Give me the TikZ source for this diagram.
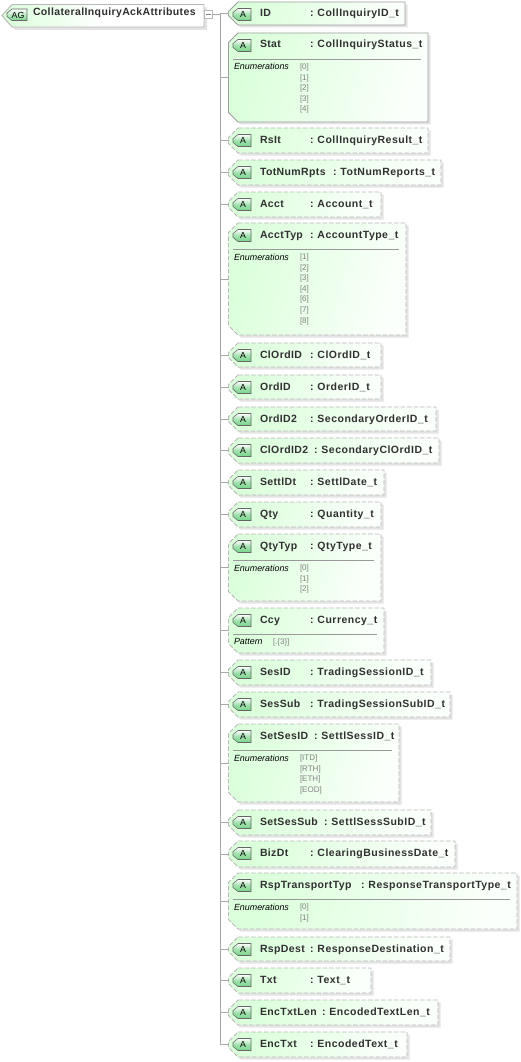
\documentclass[tikz,border=0pt]{standalone}
\usepackage{fontspec}
\setmainfont{Liberation Sans}
\newfontfamily\lblfont[LetterSpace=3.6]{Liberation Sans}
\newfontfamily\typefont[LetterSpace=4.6]{Liberation Sans}
\usetikzlibrary{calc}
\definecolor{edge}{HTML}{B8B8B8}
\definecolor{shadowc}{HTML}{E4E4E4}
\definecolor{txt}{HTML}{303030}
\definecolor{mint}{HTML}{DAFFDA}
\definecolor{wire}{HTML}{A8A8A8}
\definecolor{badgeg}{HTML}{78D48A}
\tikzset{
  x=1pt,y=-1pt,
  every node/.style={inner sep=0pt,outer sep=0pt},
  attrname/.style={anchor=base west,font=\lblfont\bfseries\fontsize{10.5}{12}\selectfont,text=txt},
  attrtype/.style={anchor=base west,font=\typefont\bfseries\fontsize{10.5}{12}\selectfont,text=txt},
  enumlab/.style={anchor=base west,font=\itshape\fontsize{8.9}{10}\selectfont,text=black},
  enumval/.style={anchor=base west,font=\fontsize{8}{9}\selectfont,text=black!50},
  boxline/.style={draw=edge,line width=.9pt},
  wireline/.style={draw=wire,line width=.8pt},
  dashline/.style={dash pattern=on 4.5pt off 2pt},
  solidline/.style={solid,draw=black!38},
  greenfade/.style={left color=mint,right color=mint!10!white,shading angle=75},
}
% id, top, bottom, right, line style, name, colon x, type
\newcommand{\attrbox}[8]{%
  \def\pth{(238,#2) -- (#4,#2) -- (#4,#3) -- (238,#3) -- (228.5,{#3-9.5}) -- (228.5,{#2+9.5}) -- cycle}%
  \fill[shadowc,shift={(2.5,2.5)}] \pth;
  \path[boxline,#5,greenfade] \pth;
  \coordinate (#1) at (228.5,{(#2+#3)/2});
  \draw[draw=black!60,line width=.55pt,top color=white,bottom color=badgeg,middle color=badgeg!70!white,shading angle=0]
     (238,{#2+6.5}) -- (251,{#2+6.5}) -- (251,{#2+18.5}) -- (238,{#2+18.5}) -- (233,{#2+14.5}) -- (233,{#2+10.5}) -- cycle;
  \node[anchor=center,font=\fontsize{8.8}{10}\selectfont,text=black] (#1-a) at (243,{#2+12.5}) {A};
  \node[attrname] (#1-n) at (260,{#2+15}) {#6};
  \node[attrtype] (#1-t) at (#7,{#2+15}) {:\hspace{4pt}#8};
}
% id, top, right, label, values(comma list)
\newcommand{\enumlist}[5]{%
  \draw[draw=black!40,line width=.6pt] (233,{#2+26.5}) -- ({#3-7},{#2+26.5});
  \node[enumlab] (#1-l) at (234,{#2+37}) {#4};
  \foreach \v [count=\i from 0] in {#5} {
    \node[enumval] (#1-v\i) at (300,{#2+36.5+10.6*\i}) {[\v]};
  }
}
\begin{document}
\begin{tikzpicture}
\useasboundingbox (0,0) rectangle (521,1062);
\fill[white] (0,0) rectangle (521,1062);
% root
\def\rp{(12,4.5) -- (204,4.5) -- (204,27) -- (12,27) -- (2,15.5) -- cycle}
\fill[shadowc,shift={(3,3)}] \rp;
\path[draw=edge,line width=.9pt,left color=mint,right color=white,middle color=white] \rp;
\draw[draw=black!60,line width=.55pt,top color=white,bottom color=badgeg,shading angle=0]
  (12,9) -- (27,9) -- (27,20.5) -- (12,20.5) -- (7,16.5) -- (7,13) -- cycle;
\node[anchor=center,font=\fontsize{8.8}{10}\selectfont,text=black] (root-a) at (18,15) {AG};
\node[attrname] (root-n) at (33,16) {CollateralInquiryAckAttributes};
\node[draw=edge,fill=white,minimum width=8pt,minimum height=7.5pt,line width=.7pt] (toggle) at (208,14.5) {};
\draw[draw=black!50,line width=.6pt] (205.5,14.5) -- (210.5,14.5);
\coordinate (hub) at (220,14.5);

\attrbox{id}{2}{25}{405}{solidline}{ID}{310}{CollInquiryID\_t}
\attrbox{stat}{33}{122}{428}{solidline}{Stat}{310}{CollInquiryStatus\_t}
\enumlist{stat}{33}{428}{Enumerations}{0,1,2,3,4}
\attrbox{rslt}{128}{153}{428}{dashline}{RsIt}{310}{CollInquiryResult\_t}
\attrbox{tot}{160}{185}{441}{dashline}{TotNumRpts}{333}{TotNumReports\_t}
\attrbox{acct}{192}{217}{381}{dashline}{Acct}{310}{Account\_t}
\attrbox{accttyp}{223}{335}{406}{dashline}{AcctTyp}{310}{AccountType\_t}
\enumlist{accttyp}{223}{406}{Enumerations}{1,2,3,4,6,7,8}
\attrbox{clord}{343}{367}{381}{dashline}{ClOrdID}{310}{ClOrdID\_t}
\attrbox{ord}{375}{399}{381}{dashline}{OrdID}{310}{OrderID\_t}
\attrbox{ord2}{407}{431}{436}{dashline}{OrdID2}{310}{SecondaryOrderID\_t}
\attrbox{clord2}{438}{463}{439}{dashline}{ClOrdID2}{314}{SecondaryClOrdID\_t}
\attrbox{settl}{470}{495}{384}{dashline}{SettlDt}{310}{SettlDate\_t}
\attrbox{qty}{502}{527}{381}{dashline}{Qty}{310}{Quantity\_t}
\attrbox{qtytyp}{534}{601}{381}{dashline}{QtyTyp}{310}{QtyType\_t}
\enumlist{qtytyp}{534}{381}{Enumerations}{0,1,2}
\attrbox{ccy}{608}{653}{384}{dashline}{Ccy}{310}{Currency\_t}
\draw[draw=black!40,line width=.6pt] (233,634) -- (377,634);
\node[enumlab] (ccy-l) at (234,644.5) {Pattern};
\node[enumval] (ccy-v) at (273,644) {[.\{3\}]};
\attrbox{sesid}{660}{685}{431}{dashline}{SesID}{310}{TradingSessionID\_t}
\attrbox{sessub}{692}{717}{450}{dashline}{SesSub}{310}{TradingSessionSubID\_t}
\attrbox{setses}{724}{802}{399}{dashline}{SetSesID}{314}{SettlSessID\_t}
\enumlist{setses}{724}{399}{Enumerations}{ITD,RTH,ETH,EOD}
\attrbox{setsub}{810}{835}{431}{dashline}{SetSesSub}{324}{SettlSessSubID\_t}
\attrbox{biz}{841}{867}{455}{dashline}{BizDt}{310}{ClearingBusinessDate\_t}
\attrbox{rsp}{873}{929}{517}{dashline}{RspTransportTyp}{361}{ResponseTransportType\_t}
\enumlist{rsp}{873}{517}{Enumerations}{0,1}
\attrbox{dest}{937}{961}{450}{dashline}{RspDest}{310}{ResponseDestination\_t}
\attrbox{txt}{968}{993}{371}{dashline}{Txt}{310}{Text\_t}
\attrbox{enclen}{1000}{1025}{438}{dashline}{EncTxtLen}{322}{EncodedTextLen\_t}
\attrbox{enc}{1032}{1057}{407}{dashline}{EncTxt}{310}{EncodedText\_t}

\draw[wireline] (toggle.east) -- (hub);
\foreach \c in {id,stat,rslt,tot,acct,accttyp,clord,ord,ord2,clord2,settl,qty,qtytyp,ccy,sesid,sessub,setses,setsub,biz,rsp,dest,txt,enclen,enc}
  \draw[wireline] (hub |- \c) -- (\c);
\draw[wireline] (hub) -- (hub |- enc);
\end{tikzpicture}
\end{document}
